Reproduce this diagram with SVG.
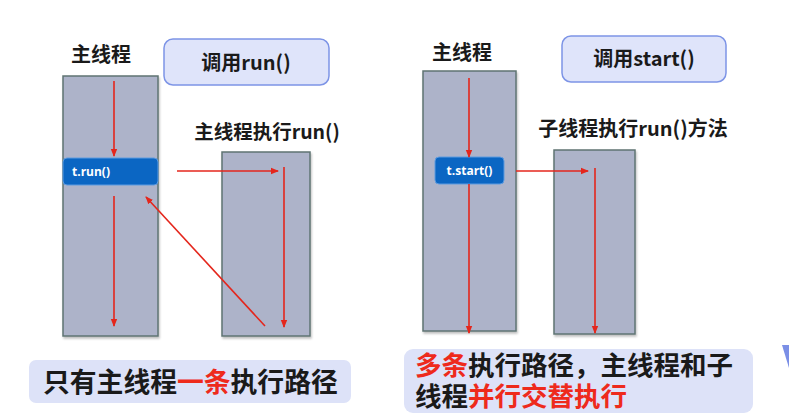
<svg xmlns="http://www.w3.org/2000/svg" width="789" height="416" viewBox="0 0 789 416">
<defs>
<marker id="ah" markerWidth="8" markerHeight="8" refX="7" refY="4" orient="auto" markerUnits="userSpaceOnUse">
<path d="M0,0.8 L8,4 L0,7.2 Z" fill="#e4261c"/>
</marker>
<filter id="sh" x="-10%" y="-10%" width="120%" height="120%">
<feDropShadow dx="1" dy="2" stdDeviation="1.2" flood-color="#000" flood-opacity="0.25"/>
</filter>
</defs>
<style>
.lane{fill:#adb3c9;stroke:#5f7473;stroke-width:1.5;filter:url(#sh)}
.call{fill:#dfe4fa;stroke:#7d94e6;stroke-width:1.5}
.btn{fill:#0b66c3;stroke:#5d9be0;stroke-width:1}
.note{fill:#dde2f8}
.t{font-family:"Noto Sans CJK SC","Liberation Sans",sans-serif;font-weight:bold;fill:#1a1a1a}
.bt{font-family:"Open Sans","Liberation Sans",sans-serif;font-weight:bold;fill:#ffffff;font-size:12px}
.red{fill:#ee2a1c}
.c{stroke:#e4261c;stroke-width:1.6;fill:none;marker-end:url(#ah)}
</style>
<rect width="789" height="416" fill="#ffffff"/>

<g id="left-main">
<text class="t" x="101" y="62" font-size="20" text-anchor="middle">主线程</text>
<rect class="lane" x="63" y="76" width="95" height="260"/>
</g>
<g id="left-call">
<rect class="call" x="164" y="39" width="165" height="46" rx="9"/>
<text class="t" x="246" y="70" font-size="20" text-anchor="middle">调用run()</text>
</g>
<g id="left-run">
<text class="t" x="267" y="139" font-size="19.5" text-anchor="middle">主线程执行run()</text>
<rect class="lane" x="222" y="152" width="88" height="184"/>
</g>
<g id="left-btn">
<rect class="btn" x="63" y="158" width="95" height="27" rx="4"/>
<text class="bt" x="72" y="176">t.run()</text>
</g>
<g id="left-note">
<rect class="note" x="29" y="360" width="322" height="43" rx="7"/>
<text class="t" x="43" y="392" font-size="26.8">只有主线程<tspan class="red">一条</tspan>执行路径</text>
</g>

<g id="right-main">
<text class="t" x="462" y="60" font-size="20" text-anchor="middle">主线程</text>
<rect class="lane" x="423" y="71" width="93" height="260"/>
</g>
<g id="right-call">
<rect class="call" x="562" y="36" width="164" height="46" rx="9"/>
<text class="t" x="644" y="66" font-size="20" text-anchor="middle">调用start()</text>
</g>
<g id="right-child">
<text class="t" x="633" y="136" font-size="20" text-anchor="middle">子线程执行run()方法</text>
<rect class="lane" x="554" y="150" width="81" height="184"/>
</g>
<g id="right-btn">
<rect class="btn" x="435" y="157" width="69" height="27" rx="4"/>
<text class="bt" x="469.5" y="175" text-anchor="middle">t.start()</text>
</g>
<g id="right-note">
<rect class="note" x="404" y="349" width="349" height="64" rx="9"/>
<text class="t" font-size="26.5"><tspan x="415" y="375"><tspan class="red">多条</tspan>执行路径，主线程和子</tspan><tspan x="415" y="406">线程<tspan class="red">并行交替执行</tspan></tspan></text>
</g>

<g id="connectors">
<line class="c" x1="114" y1="81" x2="114" y2="156"/>
<line class="c" x1="114" y1="196" x2="114" y2="326"/>
<line class="c" x1="177" y1="171" x2="278" y2="171"/>
<line class="c" x1="284" y1="167" x2="284" y2="327"/>
<line class="c" x1="265" y1="326" x2="146" y2="197"/>
<line class="c" x1="469" y1="78" x2="469" y2="157"/>
<line class="c" x1="469" y1="184" x2="469" y2="333"/>
<line class="c" x1="516" y1="171" x2="588" y2="171"/>
<line class="c" x1="595" y1="168" x2="595" y2="333"/>
</g>

<polygon points="782,345 789,345 789,368" fill="#7b8fe6"/>
</svg>
